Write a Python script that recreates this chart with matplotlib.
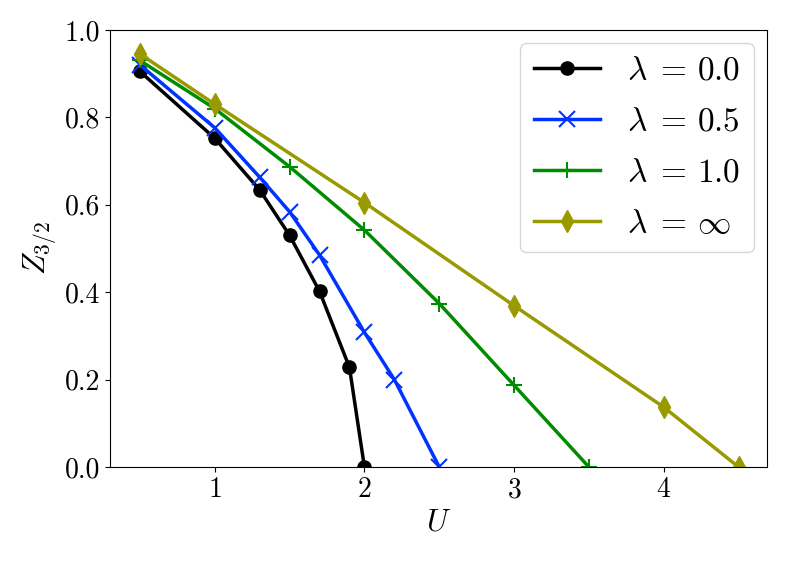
import matplotlib
matplotlib.use("Agg")
import matplotlib.pyplot as plt

plt.rcParams['font.family'] = 'serif'
plt.rcParams['font.serif'] = ['cmr10']
plt.rcParams['mathtext.fontset'] = 'cm'
plt.rcParams['axes.formatter.use_mathtext'] = True
plt.rcParams['axes.unicode_minus'] = False

# data
u_l0 = [0.5, 1.0, 1.3, 1.5, 1.7, 1.9, 2.0]
z_l0 = [0.905, 0.752, 0.634, 0.530, 0.402, 0.228, 0.0]

u_l05 = [0.5, 1.0, 1.3, 1.5, 1.7, 2.0, 2.2, 2.5]
z_l05 = [0.920, 0.776, 0.663, 0.584, 0.485, 0.308, 0.200, 0.0]

u_l1 = [0.5, 1.0, 1.5, 2.0, 2.5, 3.0, 3.5]
z_l1 = [0.930, 0.820, 0.687, 0.542, 0.374, 0.187, 0.0]

u_inf = [0.5, 1.0, 2.0, 3.0, 4.0, 4.5]
z_inf = [0.945, 0.830, 0.605, 0.369, 0.137, 0.0]

labels = [r'$\lambda\;=\,0.0$', r'$\lambda\;=\,0.5$', r'$\lambda\;=\,1.0$', r'$\lambda\;=\,\infty$']

fig = plt.figure(figsize=(7.89, 5.64), dpi=100)
ax = fig.add_axes([0.1394, 0.172, 0.8327, 0.775])

ax.plot(u_l0, z_l0, '-o', color='black', lw=2.5, ms=9.5, label=labels[0])
ax.plot(u_l05, z_l05, '-x', color='#0033ff', lw=2.5, ms=11, mew=1.5, label=labels[1])
ax.plot(u_l1, z_l1, '-+', color='#008c00', lw=2.5, ms=11, mew=1.5, label=labels[2])
ax.plot(u_inf, z_inf, '-d', color='#999900', lw=2.5, ms=11, label=labels[3])

ax.set_xlim(0.3, 4.69)
ax.set_ylim(0.0, 1.0)
ax.set_xticks([1, 2, 3, 4])
ax.set_yticks([0.0, 0.2, 0.4, 0.6, 0.8, 1.0])
ax.set_yticklabels(['0.0', '0.2', '0.4', '0.6', '0.8', '1.0'])
ax.tick_params(labelsize=20)
ax.set_xlabel(r'$U$', fontsize=22)
ax.set_ylabel(r'$Z_{3/2}$', fontsize=22)

ax.legend(loc='upper right', fontsize=24, handlelength=2.0, borderaxespad=0.4,
          labelspacing=0.65)

fig.savefig('out.png', dpi=100)
